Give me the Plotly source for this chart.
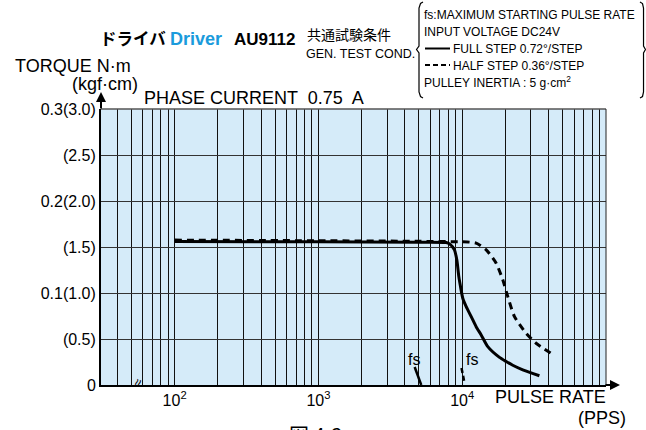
import plotly.graph_objects as go

# ---- data (pulse rate in PPS, torque in kgf·cm) ----
full_pps = [100, 1000, 5000, 7745, 8166, 8830, 9173, 9473, 9730, 10090, 10660,
            11550, 12500, 13550, 15060, 18170, 20230, 22460, 26380, 34420]
full_torque = [1.56, 1.556, 1.552, 1.548, 1.534, 1.469, 1.36, 1.178, 1.07, 0.943, 0.852,
               0.743, 0.634, 0.544, 0.417, 0.30, 0.255, 0.215, 0.165, 0.101]

half_pps = [100, 1000, 5000, 9886, 11250, 12500, 14690, 17230, 19150, 20750,
            23090, 27810, 32640, 42560]
half_torque = [1.575, 1.568, 1.562, 1.556, 1.553, 1.542, 1.469, 1.324, 1.143, 0.961,
               0.743, 0.563, 0.454, 0.334]

fs_full_pps = [4670, 5190]
fs_full_torque = [0.196, 0.0]
fs_half_pps = [9890, 10380]
fs_half_torque = [0.185, 0.02]

grid_pps = [40, 50, 60, 70, 80, 90,
            100, 200, 300, 400, 500, 600, 700, 800, 900,
            1000, 2000, 3000, 4000, 5000, 6000, 7000, 8000, 9000,
            10000, 20000, 30000, 40000, 50000, 60000, 70000, 80000, 90000, 100000]
x_labels = {100: '10<sup>2</sup>', 1000: '10<sup>3</sup>', 10000: '10<sup>4</sup>'}

y_vals = [0, 0.5, 1.0, 1.5, 2.0, 2.5, 3.0]
y_labels = ['0', '(0.5)', '0.1(1.0)', '(1.5)', '0.2(2.0)', '(2.5)', '0.3(3.0)']

legend_lines = ['fs:MAXIMUM STARTING PULSE RATE', 'INPUT VOLTAGE DC24V',
                'FULL STEP 0.72°/STEP', 'HALF STEP 0.36°/STEP',
                'PULLEY INERTIA : 5 g·cm<sup>2</sup>']

# plot area in pixels
L, R, T, B = 101, 606, 109, 385
W, H = 646, 430


def px(x):
    return (x - L) / (R - L)


def py(y):
    return (B - y) / (B - T)


FONT = 'Liberation Sans, Arial, sans-serif'
JP = 'Noto Sans CJK JP'

fig = go.Figure()

fig.add_trace(go.Scatter(x=half_pps, y=half_torque, mode='lines',
                         line=dict(color='black', width=3, dash='7px,5px', shape='spline', smoothing=0.6),
                         showlegend=False, hoverinfo='skip'))
fig.add_trace(go.Scatter(x=full_pps, y=full_torque, mode='lines',
                         line=dict(color='black', width=3, shape='spline', smoothing=0.6),
                         showlegend=False, hoverinfo='skip'))
fig.add_trace(go.Scatter(x=fs_full_pps, y=fs_full_torque, mode='lines',
                         line=dict(color='black', width=2.5),
                         showlegend=False, hoverinfo='skip'))
fig.add_trace(go.Scatter(x=fs_half_pps, y=fs_half_torque, mode='lines',
                         line=dict(color='black', width=2.5, dash='5px,3px'),
                         showlegend=False, hoverinfo='skip'))

fig.update_layout(
    width=W, height=H, autosize=False,
    margin=dict(l=L, r=W - R, t=T, b=H - B),
    paper_bgcolor='white',
    plot_bgcolor='#d5ebf9',
    font=dict(family=FONT, color='black'),
    showlegend=False,
)

fig.update_xaxes(
    type='log', range=[1.488, 5.0],
    tickvals=grid_pps, ticktext=[x_labels.get(v, '') for v in grid_pps],
    showgrid=True, gridcolor='#111111', gridwidth=1,
    showline=True, linecolor='black', linewidth=2,
    ticks='', zeroline=False, tickfont=dict(size=16, family=FONT),
)
fig.update_yaxes(
    range=[0, 3.0], tickvals=y_vals, ticktext=y_labels,
    showgrid=True, gridcolor='#333333', gridwidth=1,
    showline=True, linecolor='black', linewidth=2,
    ticks='', zeroline=False, tickfont=dict(size=16, family=FONT),
)

shapes = [
    # top and right borders of the grid
    dict(type='line', xref='paper', yref='paper', x0=0, x1=1, y0=1, y1=1,
         line=dict(color='#555555', width=1.5)),
    dict(type='line', xref='paper', yref='paper', x0=1, x1=1, y0=0, y1=1,
         line=dict(color='#222222', width=1)),
    # legend sample lines
    dict(type='line', xref='paper', yref='paper', x0=px(425), x1=px(450), y0=py(48.5), y1=py(48.5),
         line=dict(color='black', width=2)),
    dict(type='line', xref='paper', yref='paper', x0=px(425), x1=px(450), y0=py(65), y1=py(65),
         line=dict(color='black', width=2, dash='5px,3px')),
]


def brace(pts):
    return 'M ' + ' L '.join(f'{px(a):.4f},{py(b):.4f}' for a, b in pts)


shapes.append(dict(type='path', xref='paper', yref='paper',
                   path=brace([(423, 2), (420.5, 3.5), (419, 8), (419, 46), (416.5, 49.5),
                               (419, 53), (419, 92), (420.5, 96.5), (423, 98)]),
                   line=dict(color='black', width=1.2)))
shapes.append(dict(type='path', xref='paper', yref='paper',
                   path=brace([(640, 2), (642.5, 3.5), (643.5, 8), (643.5, 46), (645.5, 49.5),
                               (643.5, 53), (643.5, 92), (642.5, 96.5), (640, 98)]),
                   line=dict(color='black', width=1.2)))
fig.update_layout(shapes=shapes)


def text(x, y, s, size=18, anchor='left', family=FONT, color='black', angle=0):
    fig.add_annotation(x=px(x), y=py(y), xref='paper', yref='paper', text=s,
                       showarrow=False, xanchor=anchor, yanchor='middle',
                       font=dict(size=size, family=family, color=color),
                       textangle=angle)


# header
text(98, 38, '<b>ドライバ</b>', size=16.5, family=JP)
text(168, 39, '<b>Driver</b>', size=18, color='#1a9bdc')
text(232, 39, '<b>AU9112</b>', size=17)
text(305, 34, '共通試験条件', size=14, family=JP)
text(304, 54, 'GEN. TEST COND.', size=12.5)

for i, s in enumerate(legend_lines):
    x0 = 451 if i in (2, 3) else 422
    text(x0, 15.5 + i * 16.7, s, size=12)

# axis titles
text(13, 66, 'TORQUE N·m', size=18)
text(140, 84, '(kgf·cm)', size=18, anchor='right')
text(142, 98, 'PHASE CURRENT  0.75  A', size=18)
text(493, 397, 'PULSE RATE', size=18)
text(628, 418, '(PPS)', size=18, anchor='right')

# fs markers
text(414, 359, 'fs', size=16, anchor='center')
text(472, 359, 'fs', size=16, anchor='center')

# axis break mark
text(137.5, 383, '≈', size=14, anchor='center', angle=-70)

# figure number, cut at the bottom edge
text(316, 434, '図 4-2', size=20, anchor='center', family=JP)

# axis arrows
fig.add_annotation(x=0, y=py(92), xref='paper', yref='paper', ax=0, ay=18,
                   showarrow=True, arrowhead=2, arrowsize=1, arrowwidth=2, arrowcolor='black', text='')
fig.add_annotation(x=px(620), y=0, xref='paper', yref='paper', ax=-16, ay=0,
                   showarrow=True, arrowhead=2, arrowsize=1, arrowwidth=2, arrowcolor='black', text='')

fig.write_html('out.html', config={'displayModeBar': False},
               post_script="document.body.style.margin='0';")
